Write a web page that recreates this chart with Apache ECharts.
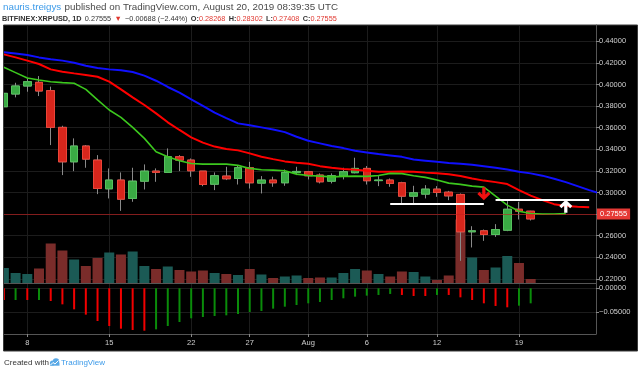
<!DOCTYPE html>
<html><head><meta charset="utf-8">
<script src="https://cdn.jsdelivr.net/npm/echarts@6/dist/echarts.min.js"></script>
<style>html,body{margin:0;padding:0;background:#fff}#c{width:640px;height:374px}</style>
</head><body><div id="c"></div><script>
// ---- data ----
const dates = ['07-06','07-07','07-08','07-09','07-10','07-11','07-12','07-13','07-14','07-15','07-16','07-17','07-18','07-19','07-20','07-21','07-22','07-23','07-24','07-25','07-26','07-27','07-28','07-29','07-30','07-31',
 '08-01','08-02','08-03','08-04','08-05','08-06','08-07','08-08','08-09','08-10','08-11','08-12','08-13','08-14','08-15','08-16','08-17','08-18','08-19','08-20'];
const futureDates = ['08-21','08-22','08-23','08-24','08-25','08-26'];
const opens = [0.3794,0.3912,0.3986,0.4020,0.3943,0.3603,0.3284,0.3430,0.3300,0.3034,0.3115,0.2945,0.3105,0.3198,0.3186,0.3331,0.3300,0.3198,0.3077,0.3152,0.3130,0.3229,0.3087,0.3115,0.3090,0.3186,
 0.3192,0.3161,0.3105,0.3152,0.3183,0.3223,0.3110,0.3115,0.3090,0.2966,0.2985,0.3031,0.3003,0.2982,0.2636,0.2645,0.2611,0.2651,0.2845,0.28268];
const closes = [0.3918,0.3986,0.4026,0.3940,0.3603,0.3284,0.3430,0.3309,0.3037,0.3115,0.2938,0.3105,0.3198,0.3186,0.3331,0.3300,0.3201,0.3074,0.3155,0.3127,0.3229,0.3090,0.3115,0.3090,0.3186,0.3195,
 0.3155,0.3099,0.3155,0.3192,0.3223,0.3109,0.3115,0.3084,0.2966,0.2997,0.3031,0.3000,0.2969,0.2636,0.2645,0.2611,0.2657,0.2845,0.2827,0.27555];
const lows = [0.3770,0.3881,0.3933,0.3893,0.3439,0.3161,0.3198,0.3229,0.2985,0.2945,0.2830,0.2914,0.3028,0.3099,0.3183,0.3198,0.3145,0.3058,0.3022,0.3115,0.3074,0.3037,0.2991,0.3053,0.3062,0.3161,
 0.3121,0.3084,0.3084,0.3121,0.3177,0.3074,0.3059,0.3053,0.2898,0.2900,0.2945,0.2960,0.2929,0.2367,0.2491,0.2552,0.2589,0.2642,0.2750,0.27408];
const highs = [0.3940,0.4016,0.4057,0.4078,0.3980,0.3618,0.3501,0.3439,0.3346,0.3223,0.3186,0.3229,0.3260,0.3223,0.3408,0.3346,0.3315,0.3198,0.3186,0.3238,0.3254,0.3284,0.3152,0.3146,0.3213,0.3238,
 0.3195,0.3177,0.3177,0.3229,0.3322,0.3245,0.3152,0.3130,0.3099,0.3062,0.3068,0.3059,0.3015,0.2991,0.2688,0.2657,0.2707,0.2920,0.2914,0.28302];
// volume, millions
const volumes = [30,20,18,29,79,65,47,34,50,61,57,63,34,28,33,26,23,25,20,18,16,28,17,10,13,15,
 10,11,11,20,28,25,18,13,23,22,13,6,15,127,51,26,31,54,40,8];
// Alligator lines (displaced into the future)
const jaw = [0.4298,0.4286,0.4273,0.4251,0.4233,0.4221,0.4202,0.4174,0.4153,0.4140,0.4131,0.4116,0.4082,0.4035,0.3977,0.3924,0.3862,0.3801,0.3739,0.3689,0.3640,0.3622,0.3603,0.3584,0.3559,0.3516,
 0.3479,0.3455,0.3430,0.3411,0.3386,0.3371,0.3356,0.3343,0.3330,0.3305,0.3295,0.3284,0.3274,0.3266,0.3257,0.3244,0.3229,0.3212,0.3193,0.3177,0.3156,0.3128,0.3096,0.3059,0.3022,0.2989];
const teeth = [0.4279,0.4251,0.4221,0.4190,0.4140,0.4119,0.4103,0.4088,0.4072,0.4026,0.3955,0.3881,0.3810,0.3733,0.3650,0.3579,0.3511,0.3462,0.3425,0.3402,0.3390,0.3362,0.3331,0.3309,0.3288,0.3275,
 0.3266,0.3244,0.3229,0.3217,0.3210,0.3201,0.3192,0.3192,0.3195,0.3192,0.3184,0.3178,0.3168,0.3153,0.3130,0.3110,0.3096,0.3078,0.3022,0.2971,0.2929,0.2892,0.2874,0.2867,0.2864];
const lips = [0.4160,0.4110,0.4060,0.4042,0.4026,0.4017,0.4011,0.3955,0.3857,0.3764,0.3696,0.3603,0.3501,0.3377,0.3331,0.3294,0.3269,0.3263,0.3263,0.3263,0.3251,0.3223,0.3210,0.3207,0.3201,0.3170,
 0.3158,0.3152,0.3145,0.3149,0.3152,0.3149,0.3158,0.3177,0.3175,0.3155,0.3140,0.3115,0.3087,0.3075,0.3059,0.3050,0.2966,0.2883,0.2827,0.2806,0.2800,0.2801,0.2804];
// lower oscillator
const osc = [-0.0244,-0.0244,-0.0244,-0.0244,-0.0265,-0.0334,-0.0438,-0.0549,-0.0681,-0.0785,-0.0841,-0.0869,-0.0883,-0.0855,-0.0785,-0.0702,-0.0625,-0.0598,-0.0577,-0.0563,-0.0535,-0.0494,-0.0473,-0.0424,-0.0383,-0.0348,
 -0.0313,-0.0285,-0.0244,-0.0208,-0.0174,-0.0153,-0.0139,-0.0118,-0.0139,-0.0160,-0.0160,-0.0139,-0.0139,-0.0188,-0.0244,-0.0313,-0.0368,-0.0396,-0.0362,-0.0313];
const oscUp = ['n','y','n','y','n','n','n','n','n','n','n','n','n','y','y','y','y','y','y','y','y','y','y','y','y','y',
 'y','y','y','y','y','y','y','y','n','n','n','y','n','n','n','n','n','n','y','y'];
const tickDates = ['07-08','07-15','07-22','07-27','08-01','08-06','08-12','08-19'];
const tickLabels = ['8','15','22','27','Aug','6','12','19'];
const priceTicks = [0.22,0.24,0.26,0.28,0.30,0.32,0.34,0.36,0.38,0.40,0.42,0.44];
const oscTicks = [0,-0.05];
const supportLines = [['08-08','08-16',0.2900],['08-17','08-25',0.2937]];
const arrows = [['08-16',0.2989,'down'],['08-23',0.2872,'up']];
const lastClose = closes[closes.length-1];

// ---- helpers ----
function dayNum(s){const p=s.split('-').map(Number);return p[0]===7?p[1]:31+p[1];}
const allDates = dates.concat(futureDates);
const tickDays = tickDates.map(dayNum);
const UP='#3aaa44', UPB='#55c25e', DN='#d8261c', DNB='#ec4438', WICK='#8a8a8a';
const VUP='#1b5a55', VDN='#7a2c2a';
const GRIDC='#1c1c1c', AXC='#555', LBL='#cfcfcf';
const FONT='Liberation Sans';

const wickData = dates.map((d,i)=>[dayNum(d),opens[i],closes[i],lows[i],highs[i]]);
const bodyData = dates.map((d,i)=>[dayNum(d),opens[i],closes[i],Math.min(opens[i],closes[i]),Math.max(opens[i],closes[i])]);
const volData = dates.map((d,i)=>({value:[dayNum(d),volumes[i]],itemStyle:{color:closes[i]>=opens[i]?VUP:VDN}}));
const oscData = dates.map((d,i)=>({value:[dayNum(d),osc[i]],itemStyle:{color:oscUp[i]==='y'?'#0a8c0a':'#f20000'}}));
const line = arr => arr.map((v,i)=>[dayNum(allDates[i]),v]);

const DOWN_ARROW='path://M4.5,0 L7.5,0 L7.5,7 L10,4.5 L12,6.5 L6,12.5 L0,6.5 L2,4.5 L4.5,7 Z';
const UP_ARROW='path://M4.5,12.5 L7.5,12.5 L7.5,5.5 L10,8 L12,6 L6,0 L0,6 L2,8 L4.5,5.5 Z';

const X0=6.01, X1=56.58;
const chart = echarts.init(document.getElementById('c'));
const xBase = {type:'value',min:X0,max:X1,
  splitLine:{show:true,lineStyle:{color:GRIDC}},
  axisLine:{show:true,onZero:false,lineStyle:{color:AXC}}};
chart.setOption({
  animation:false,
  backgroundColor:'#fff',
  textStyle:{fontFamily:FONT},
  graphic:[
    {type:'rect',z:-1,shape:{x:3.5,y:25,width:634,height:326},style:{fill:'#000',stroke:'#3a3a3a',lineWidth:1}},
    {type:'rect',z:100,shape:{x:0,y:24,width:3,height:330},style:{fill:'#fff'}},
    {type:'line',z:100,shape:{x1:3.5,y1:25,x2:3.5,y2:351},style:{stroke:'#3a3a3a',lineWidth:1}},
    {type:'text',x:3,y:7,style:{text:'{u|nauris.treigys} {t|published on TradingView.com, August 20, 2019 08:39:35 UTC}',verticalAlign:'middle',
      rich:{u:{fill:'#3d9be9',fontSize:9.8,fontFamily:FONT},t:{fill:'#4a4a4a',fontSize:9.8,fontFamily:FONT}}}},
    {type:'text',x:2,y:19,style:{text:'{b|BITFINEX:XRPUSD, 1D} {t|0.27555} {r|▼} {t|−0.00688 (−2.44%)} {b|O:}{r|0.28268} {b|H:}{r|0.28302} {b|L:}{r|0.27408} {b|C:}{r|0.27555}',verticalAlign:'middle',
      rich:{b:{fill:'#333',fontSize:7.3,fontWeight:'bold',fontFamily:FONT},t:{fill:'#333',fontSize:7.3,fontFamily:FONT},r:{fill:'#e0362e',fontSize:7.3,fontFamily:FONT}}}},
    {type:'text',x:4,y:363,style:{text:'Created with',fill:'#333',fontSize:8,fontFamily:FONT,verticalAlign:'middle'}},
    {type:'circle',shape:{cx:52.5,cy:363,r:2.6},style:{fill:'#5aa9e6'}},
    {type:'circle',shape:{cx:56,cy:361.5,r:3.2},style:{fill:'#5aa9e6'}},
    {type:'rect',shape:{x:50,y:362.5,width:9.5,height:3.2},style:{fill:'#5aa9e6'}},
    {type:'polyline',shape:{points:[[50.5,365],[53,362.5],[55,364],[58.5,360.5]]},style:{stroke:'#fff',lineWidth:1,fill:null}},
    {type:'text',x:61,y:363,style:{text:'TradingView',fill:'#3d9be9',fontSize:8,fontFamily:FONT,verticalAlign:'middle'}}
  ],
  grid:[
    {left:4,width:592,top:25,height:258,outerBoundsMode:'none'},
    {left:4,width:592,top:283,height:51,outerBoundsMode:'none'}
  ],
  xAxis:[
    Object.assign({},xBase,{gridIndex:0,axisTick:{show:false,customValues:tickDays},axisLabel:{show:false}}),
    Object.assign({},xBase,{gridIndex:1,
      axisTick:{show:true,length:3,customValues:tickDays,lineStyle:{color:'#888'}},
      axisLabel:{customValues:tickDays,color:LBL,fontSize:7.5,margin:5,fontFamily:FONT,
        formatter:v=>{const k=tickDays.indexOf(Math.round(v));return k>=0?tickLabels[k]:'';}}})
  ],
  yAxis:[
    {type:'value',gridIndex:0,position:'right',min:0.21620,max:0.45509,
      axisLine:{show:true,lineStyle:{color:AXC}},
      axisTick:{show:true,length:3,customValues:priceTicks,lineStyle:{color:'#888'}},
      axisLabel:{customValues:priceTicks,formatter:v=>v.toFixed(5),color:LBL,fontSize:7.5,margin:3,fontFamily:FONT},
      splitLine:{show:true,lineStyle:{color:GRIDC}}},
    {type:'value',gridIndex:0,min:0,max:516,show:false},
    {type:'value',gridIndex:1,position:'right',min:-0.0952,max:0.01104,
      axisLine:{show:true,lineStyle:{color:AXC}},
      axisTick:{show:true,length:3,customValues:oscTicks,lineStyle:{color:'#888'}},
      axisLabel:{customValues:oscTicks,formatter:v=>(v<0?'−':'')+Math.abs(v).toFixed(5),color:LBL,fontSize:7.5,margin:3,fontFamily:FONT},
      splitLine:{show:true,lineStyle:{color:GRIDC}}}
  ],
  series:[
    {type:'bar',xAxisIndex:0,yAxisIndex:1,data:volData,barWidth:10,silent:true,clip:true,z:1},
    {type:'candlestick',xAxisIndex:0,yAxisIndex:0,data:wickData,barWidth:8,silent:true,clip:true,z:2,
      itemStyle:{color:WICK,color0:WICK,borderColor:WICK,borderColor0:WICK,borderColorDoji:WICK,borderWidth:1}},
    {type:'candlestick',xAxisIndex:0,yAxisIndex:0,data:bodyData,barWidth:8,silent:true,clip:true,z:3,
      itemStyle:{color:UP,color0:DN,borderColor:UPB,borderColor0:DNB,borderColorDoji:UPB,borderWidth:1},
      markLine:{silent:true,symbol:['none','none'],animation:false,
        data:[
          {yAxis:lastClose,lineStyle:{color:'rgba(200,30,30,0.6)',width:1,type:'solid'},
            label:{show:true,position:'end',formatter:lastClose.toFixed(5),color:'#fff',backgroundColor:'#e53935',padding:[2,3,1,3],fontSize:7.5,distance:1,fontFamily:FONT}},
          ...supportLines.map(s=>[{coord:[dayNum(s[0]),s[2]],lineStyle:{color:'#fff',width:2,type:'solid'},label:{show:false}},{coord:[dayNum(s[1]),s[2]]}])
        ]},
      markPoint:{silent:true,animation:false,label:{show:false},
        data:arrows.map(a=>({coord:[dayNum(a[0]),a[1]],symbol:a[2]==='down'?DOWN_ARROW:UP_ARROW,symbolSize:[13,13],
          itemStyle:{color:a[2]==='down'?'#f01010':'#ffffff'}}))}},
    {type:'line',xAxisIndex:0,yAxisIndex:0,data:line(jaw),showSymbol:false,silent:true,z:4,lineStyle:{color:'#1010ff',width:2}},
    {type:'line',xAxisIndex:0,yAxisIndex:0,data:line(teeth),showSymbol:false,silent:true,z:4,lineStyle:{color:'#ff0000',width:2}},
    {type:'line',xAxisIndex:0,yAxisIndex:0,data:line(lips),showSymbol:false,silent:true,z:4,lineStyle:{color:'#3cc81e',width:1.6}},
    {type:'bar',xAxisIndex:1,yAxisIndex:2,data:oscData,barWidth:2,silent:true}
  ]
});
</script></body></html>
